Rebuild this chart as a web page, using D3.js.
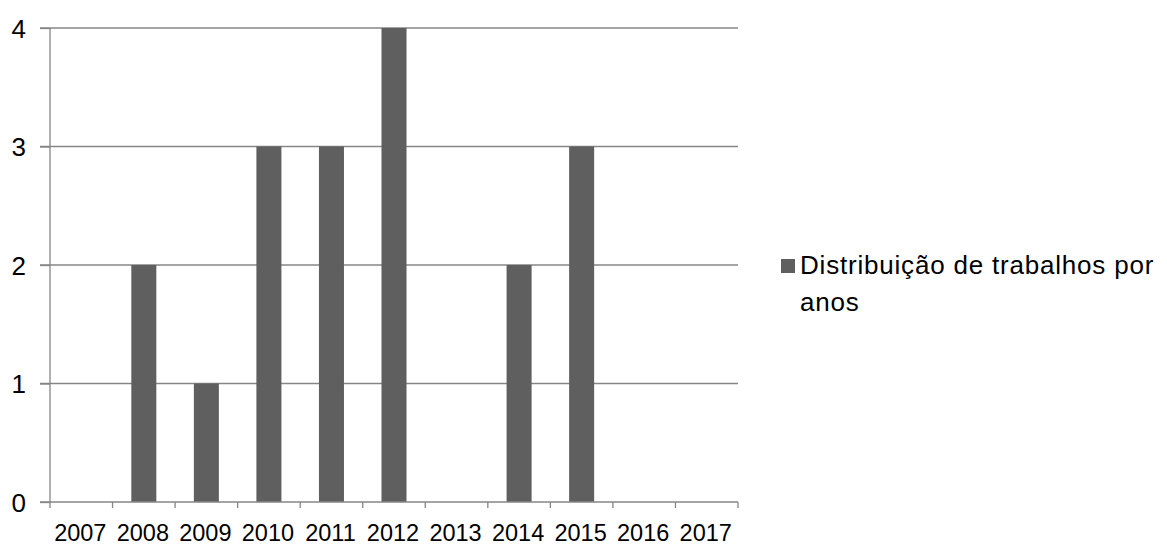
<!DOCTYPE html>
<html>
<head>
<meta charset="utf-8">
<script src="https://cdn.jsdelivr.net/npm/d3@7"></script>
<style>
  body { margin: 0; background: #fff; }
  text { font-family: "Liberation Sans", Arial, sans-serif; fill: #000; }
</style>
</head>
<body>
<div id="dataviz"></div>
<script>
// data
var years = ["2007", "2008", "2009", "2010", "2011", "2012", "2013", "2014", "2015", "2016", "2017"];
var counts = [0, 2, 1, 3, 3, 4, 0, 2, 3, 0, 0];
var yTicks = [0, 1, 2, 3, 4];
var seriesName = "Distribuição de trabalhos por";
var seriesName2 = "anos";

var widthFull = 1167;
var heightFull = 545;
var margin = { top: 28, left: 50, right: 429, bottom: 43 };
var width = widthFull - margin.left - margin.right;
var height = heightFull - margin.top - margin.bottom;

var svg = d3.select("#dataviz").append("svg")
    .attr("width", widthFull)
    .attr("height", heightFull)
    .append("g")
    .attr("transform", "translate(" + margin.left + "," + margin.top + ")");

var x = d3.scaleBand().domain(years).range([0, width]).paddingInner(0.6).paddingOuter(0.3);
var xb = d3.scaleBand().domain(years).range([0, width]);
var y = d3.scaleLinear().domain([0, 4]).range([height, 0]);

// gridlines
svg.append("g")
    .selectAll("line").data(yTicks.filter(d => d > 0)).enter().append("line")
    .attr("x1", -10).attr("x2", width)
    .attr("y1", d => y(d)).attr("y2", d => y(d))
    .attr("stroke", "#868686").attr("stroke-width", 1.3);

// bars
svg.append("g")
    .selectAll("rect").data(counts).enter().append("rect")
    .attr("x", (d, i) => x(years[i]))
    .attr("width", x.bandwidth())
    .attr("y", d => y(d))
    .attr("height", d => height - y(d))
    .attr("fill", "#5f5f5f");

// y axis
var yAxis = svg.append("g")
    .call(d3.axisLeft(y).tickValues(yTicks).tickSize(10).tickPadding(14).tickFormat(d3.format("d")));
yAxis.selectAll("line, path").attr("stroke", "#868686").attr("stroke-width", 1.3);
yAxis.select(".domain").attr("d", "M0," + height + "V0");
yAxis.selectAll("text").style("font-size", "26px").attr("font-family", null).attr("dy", "0.36em");

// x axis (ticks between categories)
var xAxis = svg.append("g").attr("transform", "translate(0," + height + ")");
xAxis.append("line").attr("x1", -10).attr("x2", width).attr("y1", 0).attr("y2", 0)
    .attr("stroke", "#868686").attr("stroke-width", 1.3);
xAxis.selectAll(".tk").data(years.concat(["end"])).enter().append("line")
    .attr("class", "tk")
    .attr("x1", (d, i) => i * xb.step()).attr("x2", (d, i) => i * xb.step())
    .attr("y1", 0).attr("y2", 6)
    .attr("stroke", "#868686").attr("stroke-width", 1.3);
xAxis.selectAll("text").data(years).enter().append("text")
    .attr("x", d => xb(d) + xb.bandwidth() / 2 - 1)
    .attr("y", 39)
    .attr("text-anchor", "middle")
    .style("font-size", "23.5px")
    .text(d => d);

// legend
var legend = svg.append("g").attr("transform", "translate(" + (width + 43) + "," + (y(2) - 6) + ")");
legend.append("rect").attr("x", 0).attr("y", 0).attr("width", 14).attr("height", 14).attr("fill", "#5f5f5f");
legend.append("text").attr("x", 19).attr("y", 15).style("font-size", "26px").style("letter-spacing", "0.8px").text(seriesName);
legend.append("text").attr("x", 19).attr("y", 52).style("font-size", "26px").style("letter-spacing", "0.8px").text(seriesName2);
</script>
</body>
</html>
